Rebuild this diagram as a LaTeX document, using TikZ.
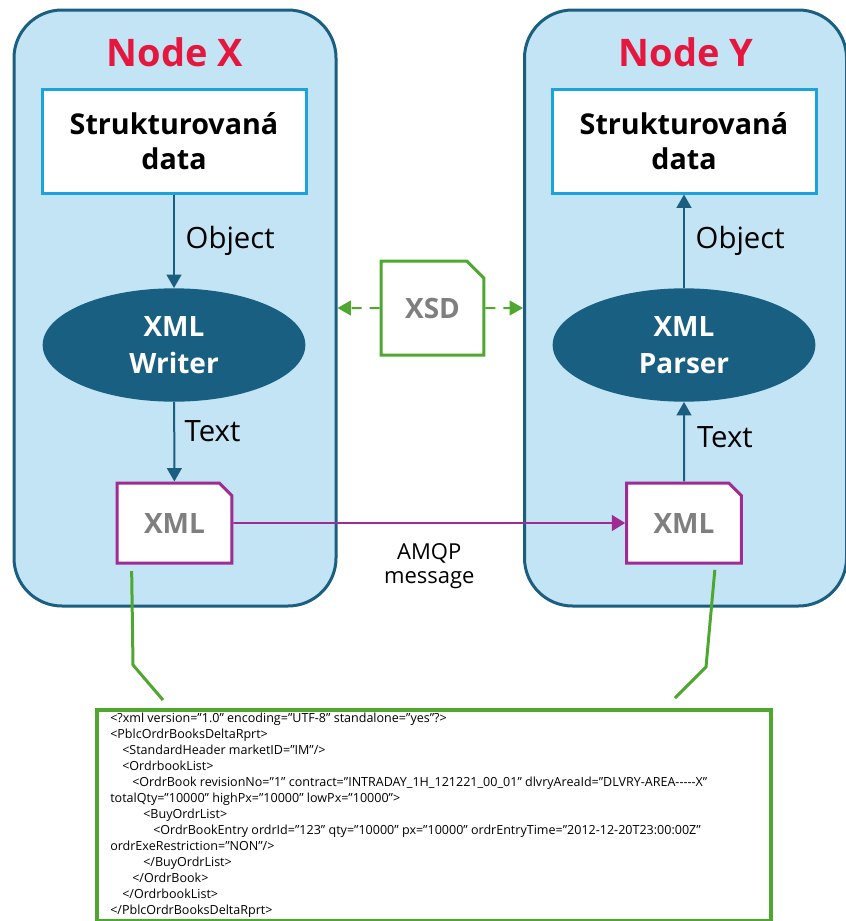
\documentclass[tikz,border=0pt]{standalone}
\usepackage{fontspec}
\setmainfont{Open Sans}
\usepackage{tikz}
\usetikzlibrary{shapes.geometric, shapes.misc, arrows.meta, positioning}

\definecolor{nodefill}{HTML}{C2E4F4}
\definecolor{nodeline}{HTML}{1A5E80}
\definecolor{toolfill}{HTML}{185F82}
\definecolor{titlered}{HTML}{E5173F}
\definecolor{dataline}{HTML}{1AA3DC}
\definecolor{xmlpurple}{HTML}{A02B93}
\definecolor{xsdgreen}{HTML}{4EA72E}
\definecolor{docgray}{HTML}{7F7F7F}

\tikzset{
    container/.style={
        rectangle, rounded corners=36pt, draw=nodeline, fill=nodefill, line width=2.25pt, minimum width=241.5pt, minimum height=447pt
    },
    nodetitle/.style={
        text=titlered, font=\fontsize{28.5}{30}\selectfont\bfseries
    },
    databox/.style={
        rectangle, draw=dataline, fill=white, line width=2.25pt, minimum width=198pt, minimum height=78pt, align=center, font=\fontsize{21.5}{26}\selectfont\bfseries
    },
    xmltool/.style={
        ellipse, fill=toolfill, text=white, minimum width=197pt, minimum height=85pt, align=center, font=\fontsize{21}{27.75}\selectfont\bfseries
    },
    docshape/.style={
        chamfered rectangle, chamfered rectangle corners=north east, chamfered rectangle xsep=5pt, chamfered rectangle ysep=4.5pt, fill=white, line width=2.25pt, line join=miter, text=docgray, minimum width=86pt, minimum height=60pt, font=\fontsize{21}{24}\selectfont\bfseries
    },
    flow/.style={
        draw=nodeline, line width=1.5pt, -{Triangle[length=10pt, width=11pt]}
    },
    message/.style={
        draw=xmlpurple, line width=1.2pt, -{Triangle[length=10pt, width=12pt]}
    },
    schema/.style={
        draw=xsdgreen, line width=1.5pt, dash pattern=on 7.5pt off 6pt, -{Triangle[length=10pt, width=11pt]}
    },
    callout/.style={
        draw=xsdgreen, line width=2.25pt
    },
    edgelabel/.style={
        inner sep=0pt, font=\fontsize{22}{24}\selectfont
    },
    xmlframe/.style={
        rectangle, draw=xsdgreen, line width=3pt, outer sep=0pt, minimum width=505.5pt, minimum height=158.5pt
    },
    listing/.style={
        inner sep=0pt, align=left, font=\fontsize{9.4}{12}\selectfont
    }
}

\begin{document}
\begin{tikzpicture}[x=0.75pt, y=-0.75pt]
    \useasboundingbox (0,0) rectangle (846,921);

    % Containers
    \node[container] (nodex) at (175,308) {};
    \node[container] (nodey) at (685.5,308) {};
    \node[nodetitle] (titlex) at (175,52) {Node X};
    \node[nodetitle] (titley) at (686,52) {Node Y};

    % Node X
    \node[databox] (datax) at (174,141) {Strukturovaná\\data};
    \node[xmltool] (writer) at (174,345) {XML\\Writer};
    \node[docshape, draw=xmlpurple] (docx) at (174.5,523) {XML};

    % Node Y
    \node[databox] (datay) at (684,141) {Strukturovaná\\data};
    \node[xmltool] (parser) at (684,345) {XML\\Parser};
    \node[docshape, draw=xmlpurple] (docy) at (684,523) {XML};

    % Schema between the nodes
    \node[docshape, draw=xsdgreen, minimum width=77pt, minimum height=70.5pt, chamfered rectangle xsep=6.4pt, chamfered rectangle ysep=6.4pt] (xsd) at (432.5,308) {XSD};

    % Message body
    \node[xmlframe, anchor=north west] (xmlbox) at (96.5,709.5) {};
    \node[listing, anchor=north west] (xmltext) at (110,713) {%
        <?xml version="1.0" encoding="UTF-8" standalone="yes"?>\\
        <PblcOrdrBooksDeltaRprt>\\
        \hspace*{9pt}<StandardHeader marketID="IM"/>\\
        \hspace*{9pt}<OrdrbookList>\\
        \hspace*{16.5pt}<OrdrBook revisionNo="1" contract="INTRADAY\_1H\_121221\_00\_01" dlvryAreaId="DLVRY-AREA-{}-{}-{}-{}-X"\\
        totalQty="10000" highPx="10000" lowPx="10000">\\
        \hspace*{24.75pt}<BuyOrdrList>\\
        \hspace*{32.25pt}<OrdrBookEntry ordrId="123" qty="10000" px="10000" ordrEntryTime="2012-12-20T23:00:00Z"\\
        ordrExeRestriction="NON"/>\\
        \hspace*{24.75pt}</BuyOrdrList>\\
        \hspace*{16.5pt}</OrdrBook>\\
        \hspace*{9pt}</OrdrbookList>\\
        </PblcOrdrBooksDeltaRprt>};

    % Relationships
    \draw[flow] (datax) -- node[edgelabel, right=8pt] {Object} (writer);
    \draw[flow] (writer) -- node[edgelabel, right=7pt, pos=0.37] {Text} (docx);
    \draw[flow] (parser) -- node[edgelabel, right=8pt] {Object} (datay);
    \draw[flow] (docy) -- node[edgelabel, right=9pt, pos=0.56] {Text} (parser);
    \draw[message] (docx) -- node[edgelabel, below=15pt, align=center, font=\fontsize{16.5}{17.5}\selectfont] {AMQP\\message} (docy);
    \draw[schema] (xsd) -- (nodex);
    \draw[schema] (xsd) -- (nodey);

    % Callouts
    \coordinate (bendx) at (133,665);
    \coordinate (tipx) at (163,700);
    \coordinate (bendy) at (706,667);
    \coordinate (tipy) at (675,698);
    \draw[callout] ([xshift=12pt, yshift=-5pt]docx.south west) -- (bendx) -- (tipx);
    \draw[callout] ([xshift=-21pt, yshift=-4pt]docy.south east) -- (bendy) -- (tipy);

\end{tikzpicture}
\end{document}
